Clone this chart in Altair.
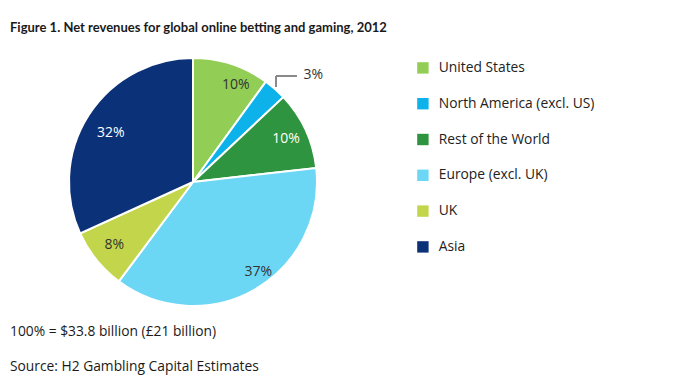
import altair as alt
import pandas as pd

regions = ["United States", "North America (excl. US)", "Rest of the World",
           "Europe (excl. UK)", "UK", "Asia"]
shares = [10, 3, 10.2, 37, 8, 31.8]
labels = ["10%", "3%", "10%", "37%", "8%", "32%"]
colors = ["#92cd55", "#0db2ea", "#2e943f", "#6cd7f5", "#c3d64b", "#0b3178"]
order = [0, 1, 2, 3, 4, 5]

title_text = "Figure 1. Net revenues for global online betting and gaming, 2012"
note_text = "100% = $33.8 billion (£21 billion)"
source_text = "Source: H2 Gambling Capital Estimates"

df = pd.DataFrame({"region": regions, "share": shares, "label": labels, "ord": order})

FONT = "Open Sans"
CX, CY, R = 185, 174, 124

pie = alt.Chart(df).mark_arc(outerRadius=R, stroke="white", strokeWidth=2).encode(
    theta=alt.Theta("share:Q", stack=True),
    order=alt.Order("ord:Q"),
    x=alt.value(CX), y=alt.value(CY),
    color=alt.Color(
        "region:N",
        scale=alt.Scale(domain=regions, range=colors),
        sort=regions,
        legend=alt.Legend(
            title=None, orient="none", legendX=408, legendY=53,
            symbolType="square", symbolSize=130, symbolStrokeWidth=0,
            labelFont=FONT, labelFontSize=13.8, labelColor="#222222",
            labelOffset=9, rowPadding=20.8, labelLimit=300,
        ),
    ),
)

stacked = alt.Chart(df).transform_window(
    cum="sum(share)", sort=[alt.SortField("ord")], frame=[None, 0]
).transform_calculate(mid="datum.cum - datum.share / 2")


def lab(idx, radius, color, dx=0, dy=0):
    return stacked.transform_filter(alt.datum.ord == idx).mark_text(
        radius=radius, font=FONT, fontSize=14, color=color, dx=dx, dy=dy
    ).encode(
        theta=alt.Theta("mid:Q", scale=alt.Scale(domain=[0, 100])),
        x=alt.value(CX), y=alt.value(CY), text="label:N",
    )


layers = [
    pie,
    lab(0, 106, "#333333", dx=10, dy=4),
    lab(1, 150, "#333333", dx=21, dy=6),
    lab(2, 102.5, "#ffffff"),
    lab(3, 111, "#333333", dx=10, dy=-6),
    lab(4, 101, "#333333"),
    lab(5, 95.5, "#ffffff", dx=-2, dy=3),
]

leader_v = alt.Chart(df).mark_rule(color="#888888", strokeWidth=1).encode(
    x=alt.value(268), y=alt.value(68), y2=alt.value(79))
leader_h = alt.Chart(df).mark_rule(color="#888888", strokeWidth=1).encode(
    x=alt.value(268), x2=alt.value(289), y=alt.value(68))


def txt(s, x, y, bold=False, size=13.8, font=FONT):
    return alt.Chart(pd.DataFrame({"t": [s]})).mark_text(
        align="left", baseline="middle", font=font, fontSize=size,
        fontWeight="bold" if bold else "normal", color="#1a1a1a"
    ).encode(x=alt.value(x), y=alt.value(y), text="t:N")


chart = alt.layer(
    *layers, leader_v, leader_h,
    txt(title_text, 2, 20, bold=True, size=13, font="Lato"),
    txt(note_text, 2, 324),
    txt(source_text, 2, 359),
).properties(width=671, height=374, autosize="none", padding=0
).configure_view(stroke=None)

chart.save("out.html", embed_options={"renderer": "svg", "actions": False})
